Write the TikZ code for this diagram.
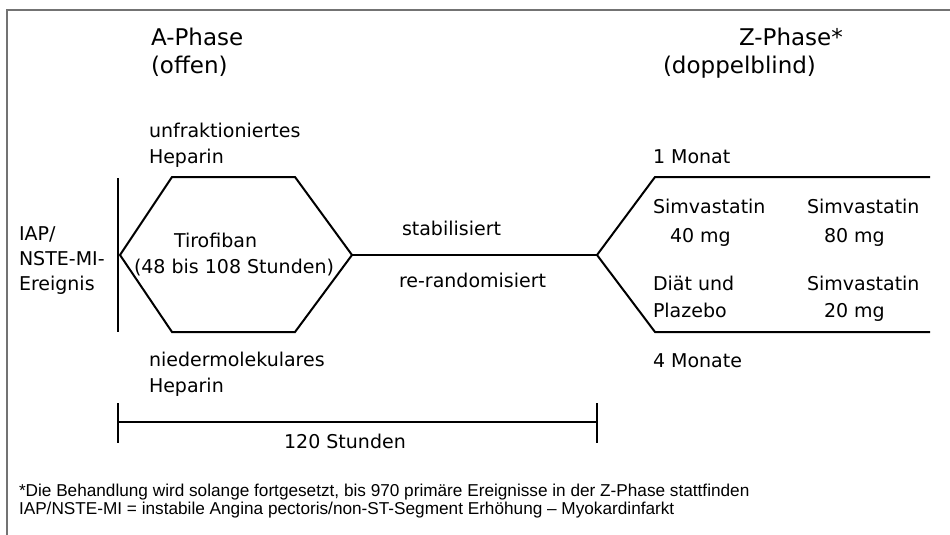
\documentclass[tikz,border=0pt]{standalone}
\usepackage{fontspec}
\setmainfont{DejaVu Sans}
\newfontfamily\notefont{Liberation Sans}
\begin{document}
\begin{tikzpicture}
    [x=1pt, y=-1pt,
    line width=2pt,
    every node/.style={inner sep=0pt, align=left, anchor=base west},
    lbl/.style={font=\fontsize{19}{26}\selectfont},
    phase/.style={font=\fontsize{23}{28}\selectfont},
    note/.style={font=\notefont\fontsize{17.2}{18}\selectfont}]
    \useasboundingbox (0,0) rectangle (950,535);
    \draw[line width=1.4pt, black!55] (950,10) -- (7,10) -- (7,535);
    \coordinate (start) at (120,255);
    \coordinate (hexTL) at (172,177);
    \coordinate (hexTR) at (295,177);
    \coordinate (hexR)  at (352,255);
    \coordinate (hexBR) at (295,332);
    \coordinate (hexBL) at (172,332);
    \coordinate (fork)  at (597,255);
    \coordinate (zTL) at (655,177);
    \coordinate (zTR) at (930,177);
    \coordinate (zBL) at (655,332);
    \coordinate (zBR) at (930,332);
    \coordinate (randT) at (118,178);
    \coordinate (randB) at (118,332);
    \draw (randT) -- (randB);
    \draw (start) -- (hexTL) -- (hexTR) -- (hexR) -- (hexBR) -- (hexBL) -- cycle;
    \draw (hexR) -- (fork);
    \draw (zTR) -- (zTL) -- (fork) -- (zBL) -- (zBR);
    \node[phase] (aphase) at (150,74) {A-Phase\\(offen)};
    \node[phase] (zphase) at (738,46) {Z-Phase*};
    \node[phase] (zsub) at (662,74) {(doppelblind)};
    \node[lbl] (ufh) at (148,163) {unfraktioniertes\\Heparin};
    \node[lbl] (nmh) at (148,392) {niedermolekulares\\Heparin};
    \node[lbl, font=\fontsize{19}{25}\selectfont] (event) at (18,290) {IAP/\\NSTE-MI-\\Ereignis};
    \node[lbl] (tiro) at (133,273) {\hspace*{40pt}Tirofiban\\(48 bis 108 Stunden)};
    \node[lbl] (stab) at (401,235) {stabilisiert};
    \node[lbl] (rerand) at (398,287) {re-randomisiert};
    \node[lbl] (month1) at (652,163) {1 Monat};
    \node[lbl] (month4) at (652,367) {4 Monate};
    \node[lbl, font=\fontsize{19}{29}\selectfont] (sim40) at (652,242) {Simvastatin\\\hspace*{17pt}40 mg};
    \node[lbl, font=\fontsize{19}{29}\selectfont] (sim80) at (806,242) {Simvastatin\\\hspace*{17pt}80 mg};
    \node[lbl, font=\fontsize{19}{27}\selectfont] (diet) at (652,317) {Diät und\\Plazebo};
    \node[lbl, font=\fontsize{19}{27}\selectfont] (sim20) at (806,317) {Simvastatin\\\hspace*{17pt}20 mg};
    \coordinate (durL) at (118,422);
    \coordinate (durR) at (597,422);
    \draw (durL) -- (durR);
    \draw (durL) ++(0,-19) -- ++(0,40);
    \draw (durR) ++(0,-19) -- ++(0,40);
    \node[lbl, anchor=base] (dur) at (345,448) {120 Stunden};
    \node[note] (notes) at (18,514) {*Die Behandlung wird solange fortgesetzt, bis 970 primäre Ereignisse in der Z-Phase stattfinden\\IAP/NSTE-MI = instabile Angina pectoris/non-ST-Segment Erhöhung – Myokardinfarkt};
\end{tikzpicture}
\end{document}
